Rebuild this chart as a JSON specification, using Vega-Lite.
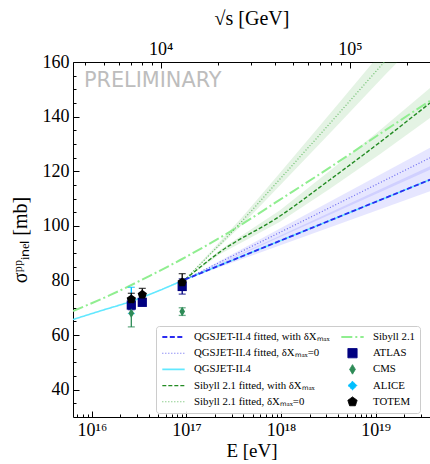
{
  "$schema": "https://vega.github.io/schema/vega-lite/v6.json",
  "width": 357,
  "height": 355,
  "autosize": {"type": "none"},
  "padding": {"left": 73, "top": 62, "right": 0, "bottom": 47},
  "background": "white",
  "config": {
    "font": "Liberation Serif",
    "view": {"stroke": null},
    "axis": {
      "domainColor": "black",
      "domainWidth": 1,
      "tickColor": "black",
      "tickWidth": 1,
      "labelColor": "black",
      "titleColor": "black",
      "labelFont": "Liberation Serif",
      "titleFont": "Liberation Serif",
      "labelFontSize": 18,
      "titleFontSize": 20,
      "titleFontWeight": "normal",
      "grid": false
    }
  },
  "datasets": {
    "curves": [
      {"series": "QGSJET-II.4", "E": 6.31e15, "sigma": 65.7},
      {"series": "QGSJET-II.4", "E": 1.215e16, "sigma": 68.8},
      {"series": "QGSJET-II.4", "E": 2.62e16, "sigma": 72.4},
      {"series": "QGSJET-II.4", "E": 5.22e16, "sigma": 76.4},
      {"series": "QGSJET-II.4", "E": 9.6e16, "sigma": 80.3},
      {"series": "QGSJET-II.4", "E": 4.66e17, "sigma": 90.0},
      {"series": "QGSJET-II.4", "E": 3.26e18, "sigma": 101.9},
      {"series": "QGSJET-II.4", "E": 3.76e19, "sigma": 116.9},
      {"series": "Sibyll 2.1", "E": 6.31e15, "sigma": 68.8},
      {"series": "Sibyll 2.1", "E": 1.549e16, "sigma": 74.6},
      {"series": "Sibyll 2.1", "E": 4.09e16, "sigma": 81.7},
      {"series": "Sibyll 2.1", "E": 8.49e16, "sigma": 87.4},
      {"series": "Sibyll 2.1", "E": 2.87e17, "sigma": 97.8},
      {"series": "Sibyll 2.1", "E": 9.66e17, "sigma": 109.5},
      {"series": "Sibyll 2.1", "E": 3.26e18, "sigma": 121.3},
      {"series": "Sibyll 2.1", "E": 1.10e19, "sigma": 133.6},
      {"series": "Sibyll 2.1", "E": 3.76e19, "sigma": 145.8},
      {"series": "Sibyll 2.1 fitted, δXₘₐₓ=0", "E": 9.6e16, "sigma": 80.3},
      {"series": "Sibyll 2.1 fitted, δXₘₐₓ=0", "E": 3.93e17, "sigma": 102.0},
      {"series": "Sibyll 2.1 fitted, δXₘₐₓ=0", "E": 9.66e17, "sigma": 117.0},
      {"series": "Sibyll 2.1 fitted, δXₘₐₓ=0", "E": 4.16e18, "sigma": 141.5},
      {"series": "Sibyll 2.1 fitted, δXₘₐₓ=0", "E": 1.24e19, "sigma": 160.0},
      {"series": "Sibyll 2.1 fitted, δXₘₐₓ=0", "E": 3.76e19, "sigma": 178.0},
      {"series": "Sibyll 2.1 fitted, with δXₘₐₓ", "E": 9.6e16, "sigma": 80.3},
      {"series": "Sibyll 2.1 fitted, with δXₘₐₓ", "E": 2.25e17, "sigma": 90.4},
      {"series": "Sibyll 2.1 fitted, with δXₘₐₓ", "E": 9.66e17, "sigma": 103.5},
      {"series": "Sibyll 2.1 fitted, with δXₘₐₓ", "E": 3.26e18, "sigma": 116.8},
      {"series": "Sibyll 2.1 fitted, with δXₘₐₓ", "E": 1.10e19, "sigma": 130.5},
      {"series": "Sibyll 2.1 fitted, with δXₘₐₓ", "E": 3.76e19, "sigma": 145.0},
      {"series": "QGSJET-II.4 fitted, δXₘₐₓ=0", "E": 9.6e16, "sigma": 80.3},
      {"series": "QGSJET-II.4 fitted, δXₘₐₓ=0", "E": 3.76e19, "sigma": 124.9},
      {"series": "QGSJET-II.4 fitted, with δXₘₐₓ", "E": 9.6e16, "sigma": 80.3},
      {"series": "QGSJET-II.4 fitted, with δXₘₐₓ", "E": 3.76e19, "sigma": 116.9}
    ],
    "bands": [
      {"family": "QGSJET", "band": "qA", "E": 9.6e16, "lo": 80.3, "hi": 80.3},
      {"family": "QGSJET", "band": "qA", "E": 3.76e19, "lo": 112.7, "hi": 121.8},
      {"family": "QGSJET", "band": "qB", "E": 9.6e16, "lo": 80.3, "hi": 80.3},
      {"family": "QGSJET", "band": "qB", "E": 3.76e19, "lo": 120.5, "hi": 128.6},
      {"family": "Sibyll", "band": "sA", "E": 9.6e16, "lo": 80.3, "hi": 80.3},
      {"family": "Sibyll", "band": "sA", "E": 2.25e17, "lo": 89.6, "hi": 91.2},
      {"family": "Sibyll", "band": "sA", "E": 9.66e17, "lo": 101.4, "hi": 105.6},
      {"family": "Sibyll", "band": "sA", "E": 3.26e18, "lo": 113.5, "hi": 120.1},
      {"family": "Sibyll", "band": "sA", "E": 1.10e19, "lo": 126.1, "hi": 134.9},
      {"family": "Sibyll", "band": "sA", "E": 3.76e19, "lo": 139.5, "hi": 150.5},
      {"family": "Sibyll", "band": "sB", "E": 9.6e16, "lo": 80.3, "hi": 80.3},
      {"family": "Sibyll", "band": "sB", "E": 3.93e17, "lo": 100.6, "hi": 103.4},
      {"family": "Sibyll", "band": "sB", "E": 9.66e17, "lo": 114.7, "hi": 119.3},
      {"family": "Sibyll", "band": "sB", "E": 4.16e18, "lo": 137.7, "hi": 145.3},
      {"family": "Sibyll", "band": "sB", "E": 1.24e19, "lo": 155.1, "hi": 164.9},
      {"family": "Sibyll", "band": "sB", "E": 3.76e19, "lo": 172.0, "hi": 184.0}
    ],
    "measurements": [
      {"series": "ATLAS", "E": 2.61e16, "sigma": 71.0, "lo": 69.3, "hi": 72.7},
      {"series": "ATLAS", "E": 3.41e16, "sigma": 72.0, "lo": 70.7, "hi": 73.3},
      {"series": "ATLAS", "E": 9.01e16, "sigma": 77.8, "lo": 75.0, "hi": 80.6},
      {"series": "CMS", "E": 2.61e16, "sigma": 68.0, "lo": 63.0, "hi": 73.0},
      {"series": "CMS", "E": 9.01e16, "sigma": 68.6, "lo": 67.2, "hi": 70.0},
      {"series": "ALICE", "E": 2.61e16, "sigma": 73.2, "lo": 67.9, "hi": 77.5},
      {"series": "TOTEM", "E": 2.61e16, "sigma": 73.1, "lo": 71.0, "hi": 75.3},
      {"series": "TOTEM", "E": 3.41e16, "sigma": 74.8, "lo": 72.5, "hi": 77.1},
      {"series": "TOTEM", "E": 9.01e16, "sigma": 79.3, "lo": 76.5, "hi": 82.5}
    ],
    "anchor": [{"E": 1e17, "sigma": 100}]
  },
  "layer": [
    {
      "layer": [
        {
          "data": {"name": "bands"},
          "mark": {"type": "area", "fillOpacity": 0.13, "clip": true},
          "encoding": {
            "x": {"field": "E", "type": "quantitative", "axis": null},
            "y": {"field": "lo", "type": "quantitative", "axis": null},
            "y2": {"field": "hi"},
            "fill": {
              "field": "family",
              "type": "nominal",
              "scale": {"domain": ["QGSJET", "Sibyll"], "range": ["#3a3aff", "#2ca02c"]},
              "legend": null
            },
            "detail": {"field": "band"}
          }
        },
        {
          "data": {"name": "curves"},
          "mark": {"type": "line", "clip": true, "interpolate": "monotone"},
          "encoding": {
            "x": {"field": "E", "type": "quantitative", "axis": null},
            "y": {"field": "sigma", "type": "quantitative", "axis": null},
            "color": {
              "field": "series",
              "type": "nominal",
              "scale": {
                "domain": ["QGSJET-II.4 fitted, with δXₘₐₓ", "QGSJET-II.4 fitted, δXₘₐₓ=0", "QGSJET-II.4", "Sibyll 2.1 fitted, with δXₘₐₓ", "Sibyll 2.1 fitted, δXₘₐₓ=0", "Sibyll 2.1", "ATLAS", "CMS", "ALICE", "TOTEM"],
                "range": ["#2b2bf0", "#6060f0", "#62e8ff", "#228b22", "#5cb85c", "#90ee90", "#000080", "#2e8b57", "#00bfff", "#000000"]
              },
              "legend": {
                "title": null,
                "orient": "none",
                "legendX": 83,
                "legendY": 264,
                "columns": 2,
                "padding": 5,
                "fillColor": "rgba(255,255,255,0.85)",
                "strokeColor": "#cccccc",
                "cornerRadius": 3,
                "clipHeight": 12,
                "rowPadding": 4.2,
                "columnPadding": 10,
                "labelOffset": 8,
                "labelFont": "Liberation Serif",
                "labelFontSize": 10.8,
                "labelColor": "black",
                "labelLimit": 300
              }
            },
            "strokeDash": {
              "field": "series",
              "type": "nominal",
              "scale": {
                "domain": ["QGSJET-II.4 fitted, with δXₘₐₓ", "QGSJET-II.4 fitted, δXₘₐₓ=0", "QGSJET-II.4", "Sibyll 2.1 fitted, with δXₘₐₓ", "Sibyll 2.1 fitted, δXₘₐₓ=0", "Sibyll 2.1", "ATLAS", "CMS", "ALICE", "TOTEM"],
                "range": [[5, 2.5], [1, 2], [1, 0], [4, 2], [1, 2], [11, 3, 2, 3], [1, 0], [1, 0], [1, 0], [1, 0]]
              }
            },
            "strokeWidth": {
              "field": "series",
              "type": "nominal",
              "scale": {
                "type": "ordinal",
                "domain": ["QGSJET-II.4 fitted, with δXₘₐₓ", "QGSJET-II.4 fitted, δXₘₐₓ=0", "QGSJET-II.4", "Sibyll 2.1 fitted, with δXₘₐₓ", "Sibyll 2.1 fitted, δXₘₐₓ=0", "Sibyll 2.1", "ATLAS", "CMS", "ALICE", "TOTEM"],
                "range": [1.8, 1.1, 1.6, 1.4, 1.1, 2, 1, 1, 1, 1]
              }
            }
          }
        },
        {
          "data": {"name": "measurements"},
          "mark": {"type": "rule", "strokeWidth": 1.3},
          "encoding": {
            "x": {"field": "E", "type": "quantitative", "axis": null},
            "y": {"field": "lo", "type": "quantitative", "axis": null},
            "y2": {"field": "hi"},
            "color": {"field": "series", "type": "nominal", "legend": null}
          }
        },
        {
          "data": {"name": "measurements"},
          "mark": {"type": "tick", "orient": "horizontal", "size": 7, "thickness": 1.3},
          "encoding": {
            "x": {"field": "E", "type": "quantitative", "axis": null},
            "y": {"field": "lo", "type": "quantitative", "axis": null},
            "color": {"field": "series", "type": "nominal", "legend": null}
          }
        },
        {
          "data": {"name": "measurements"},
          "mark": {"type": "tick", "orient": "horizontal", "size": 7, "thickness": 1.3},
          "encoding": {
            "x": {"field": "E", "type": "quantitative", "axis": null},
            "y": {"field": "hi", "type": "quantitative", "axis": null},
            "color": {"field": "series", "type": "nominal", "legend": null}
          }
        },
        {
          "data": {"name": "measurements"},
          "mark": {"type": "point", "filled": true, "opacity": 1},
          "encoding": {
            "x": {"field": "E", "type": "quantitative", "axis": null},
            "y": {"field": "sigma", "type": "quantitative", "axis": null},
            "color": {"field": "series", "type": "nominal"},
            "shape": {
              "field": "series",
              "type": "nominal",
              "scale": {
                "domain": ["QGSJET-II.4 fitted, with δXₘₐₓ", "QGSJET-II.4 fitted, δXₘₐₓ=0", "QGSJET-II.4", "Sibyll 2.1 fitted, with δXₘₐₓ", "Sibyll 2.1 fitted, δXₘₐₓ=0", "Sibyll 2.1", "ATLAS", "CMS", "ALICE", "TOTEM"],
                "range": ["stroke", "stroke", "stroke", "stroke", "stroke", "stroke", "square", "M0,-1L0.6,0L0,1L-0.6,0Z", "diamond", "M0,-1L0.951,-0.309L0.588,0.809L-0.588,0.809L-0.951,-0.309Z"]
              }
            },
            "size": {
              "field": "series",
              "type": "nominal",
              "scale": {
                "type": "ordinal",
                "domain": ["QGSJET-II.4 fitted, with δXₘₐₓ", "QGSJET-II.4 fitted, δXₘₐₓ=0", "QGSJET-II.4", "Sibyll 2.1 fitted, with δXₘₐₓ", "Sibyll 2.1 fitted, δXₘₐₓ=0", "Sibyll 2.1", "ATLAS", "CMS", "ALICE", "TOTEM"],
                "range": [500, 500, 500, 500, 500, 500, 85, 90, 75, 95]
              }
            }
          }
        },
        {
          "data": {"values": [{}]},
          "mark": {"type": "text", "text": "PRELIMINARY", "font": "DejaVu Sans", "fontSize": 20.8, "color": "#bdbdbd", "align": "left", "baseline": "alphabetic"},
          "encoding": {
            "x": {"datum": 8.23e15, "type": "quantitative", "axis": null},
            "y": {"datum": 151, "type": "quantitative", "axis": null}
          }
        },
        {
          "data": {"name": "anchor"},
          "mark": {"type": "point", "opacity": 0},
          "encoding": {
            "x": {
              "field": "E",
              "type": "quantitative",
              "scale": {"type": "log", "domain": [6.3096e15, 3.7584e19], "nice": false},
              "axis": {
                "orient": "bottom",
                "values": [1e16, 1e17, 1e18, 1e19],
                "labelExpr": "'10' + (round(log(datum.value)/LN10) == 16 ? '¹⁶' : round(log(datum.value)/LN10) == 17 ? '¹⁷' : round(log(datum.value)/LN10) == 18 ? '¹⁸' : '¹⁹')",
                "tickSize": -6,
                "labelPadding": 10,
                "title": "E [eV]",
                "titleFontSize": 19,
                "titlePadding": 2
              }
            },
            "y": {
              "field": "sigma",
              "type": "quantitative",
              "scale": {"domain": [30, 160], "nice": false, "zero": false},
              "axis": {
                "orient": "left",
                "values": [40, 60, 80, 100, 120, 140, 160],
                "tickSize": -6,
                "labelPadding": 10,
                "title": "σᵖᵖᵢₙₑₗ [mb]",
                "titlePadding": 12
              }
            }
          }
        },
        {
          "data": {"name": "anchor"},
          "mark": {"type": "point", "opacity": 0},
          "encoding": {
            "x": {
              "field": "E",
              "type": "quantitative",
              "axis": {
                "orient": "bottom",
                "values": [7e15, 8e15, 9e15, 2e16, 3e16, 4e16, 5e16, 6e16, 7e16, 8e16, 9e16, 2e17, 3e17, 4e17, 5e17, 6e17, 7e17, 8e17, 9e17, 2e18, 3e18, 4e18, 5e18, 6e18, 7e18, 8e18, 9e18, 2e19, 3e19],
                "tickSize": -3,
                "labels": false,
                "domain": false,
                "title": null
              }
            },
            "y": {
              "field": "sigma",
              "type": "quantitative",
              "axis": {
                "orient": "left",
                "values": [35, 45, 50, 55, 65, 70, 75, 85, 90, 95, 105, 110, 115, 125, 130, 135, 145, 150, 155],
                "tickSize": -3,
                "labels": false,
                "domain": false,
                "title": null
              }
            }
          }
        }
      ],
      "resolve": {"axis": {"x": "independent", "y": "independent"}}
    },
    {
      "data": {"values": [{"rs": 10000}]},
      "layer": [
        {
          "mark": {"type": "point", "opacity": 0},
          "encoding": {
            "x": {
              "field": "rs",
              "type": "quantitative",
              "scale": {"type": "log", "domain": [3441, 265571], "nice": false},
              "axis": {
                "orient": "top",
                "values": [10000, 100000],
                "labelExpr": "'10' + (datum.value < 50000 ? '⁴' : '⁵')",
                "tickSize": -6,
                "labelPadding": 10,
                "title": "√s [GeV]",
                "titlePadding": 12
              }
            }
          }
        },
        {
          "mark": {"type": "point", "opacity": 0},
          "encoding": {
            "x": {
              "field": "rs",
              "type": "quantitative",
              "axis": {
                "orient": "top",
                "values": [4000, 5000, 6000, 7000, 8000, 9000, 20000, 30000, 40000, 50000, 60000, 70000, 80000, 90000, 200000],
                "tickSize": -3,
                "labels": false,
                "domain": false,
                "title": null
              }
            }
          }
        }
      ],
      "resolve": {"axis": {"x": "independent"}}
    }
  ],
  "resolve": {"scale": {"x": "independent"}, "axis": {"x": "independent"}}
}
